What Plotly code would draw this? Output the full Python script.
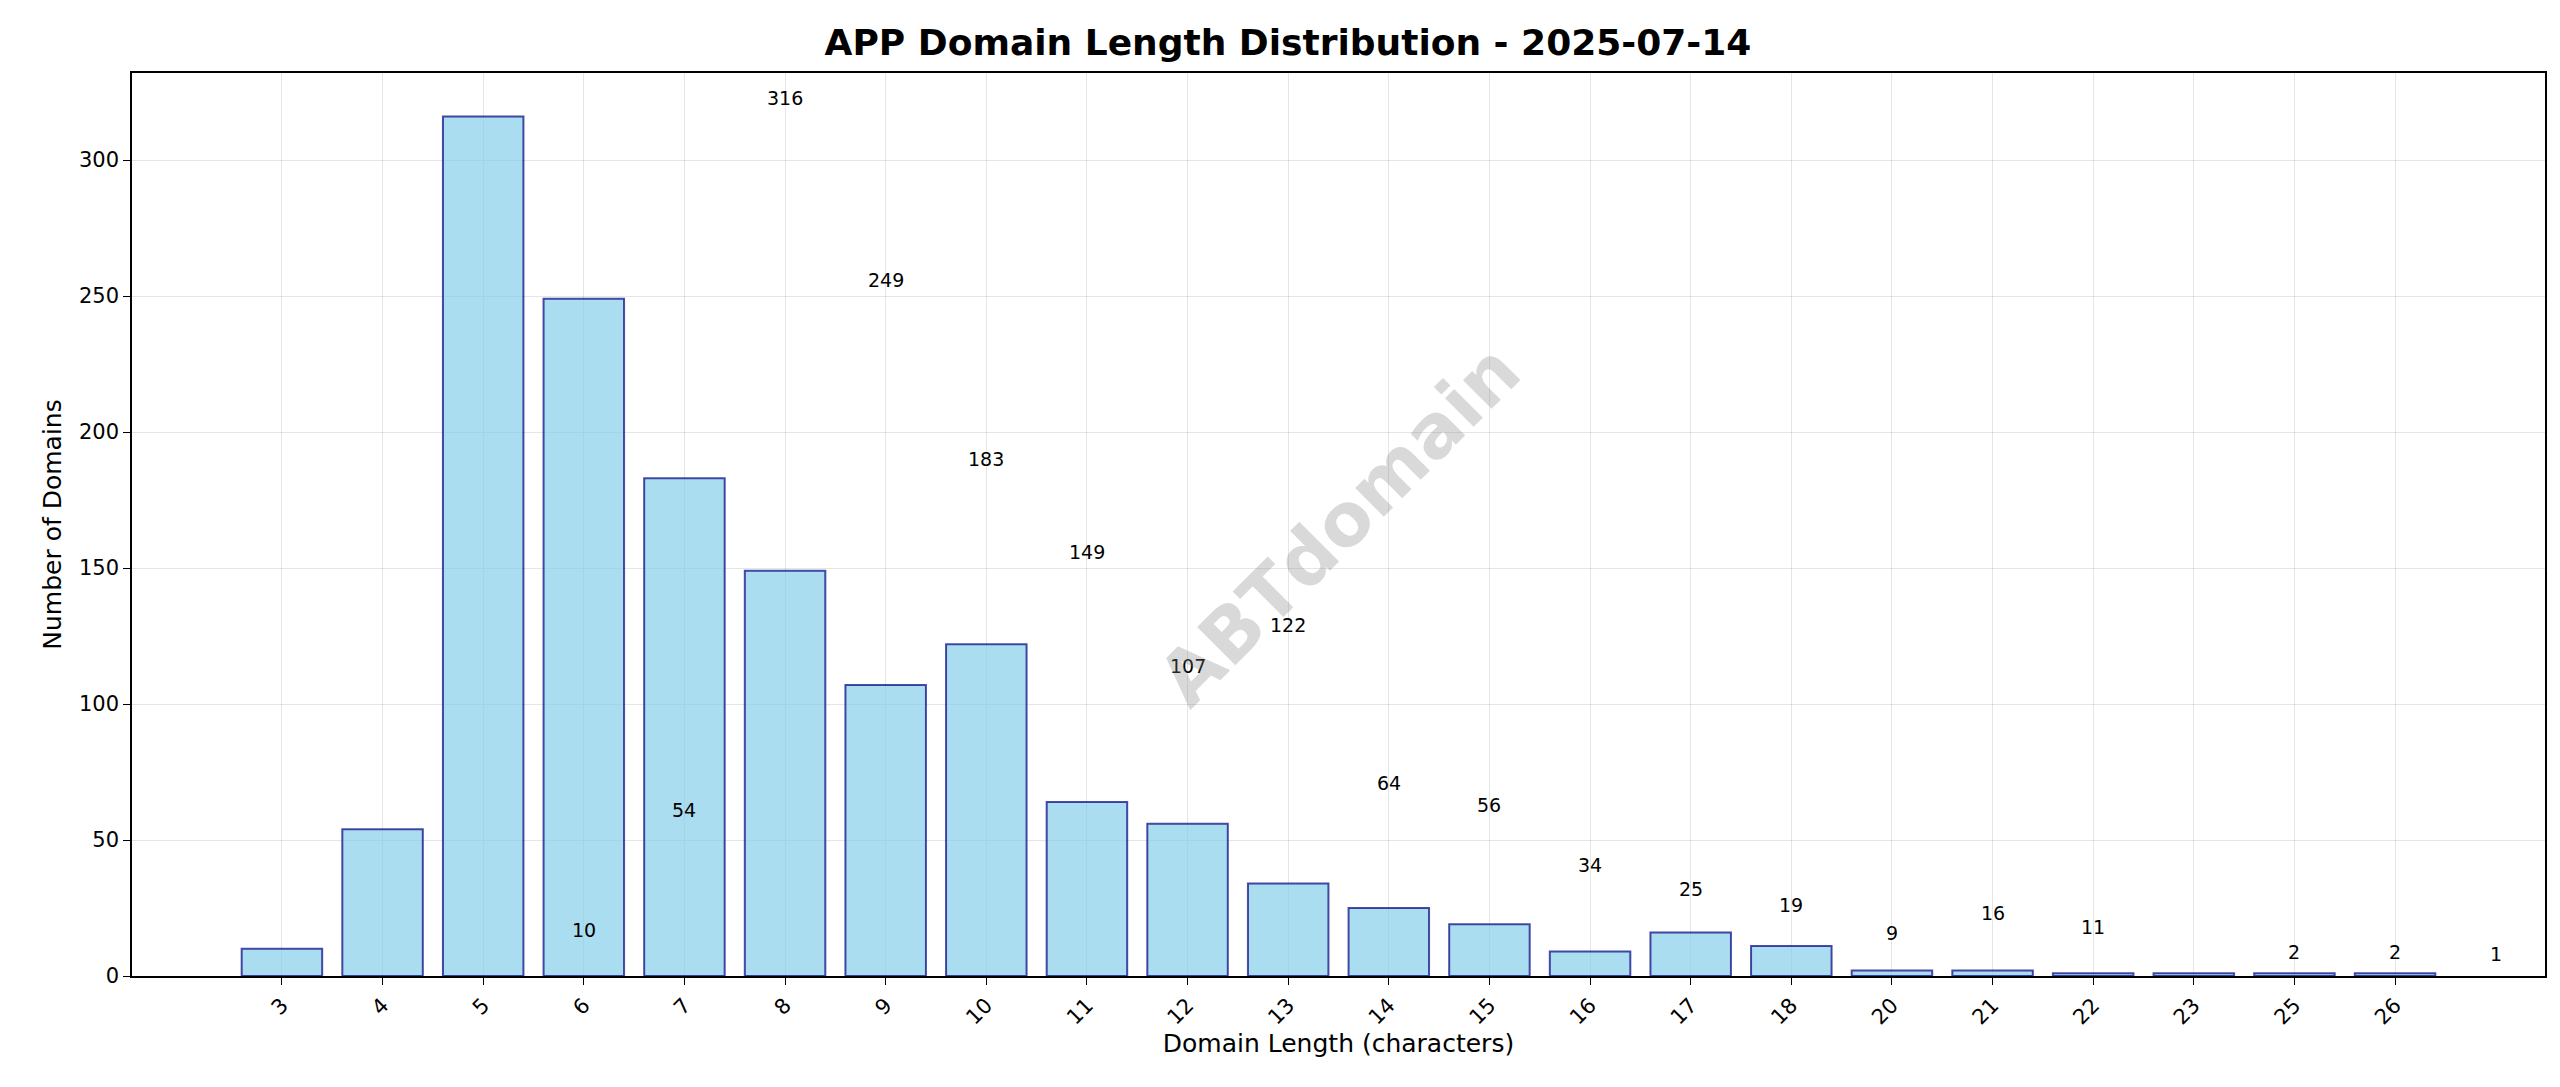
import plotly.graph_objects as go

lengths = ["3", "4", "5", "6", "7", "8", "9", "10", "11", "12", "13", "14",
           "15", "16", "17", "18", "20", "21", "22", "23", "25", "26"]
counts = [10, 54, 316, 249, 183, 149, 107, 122, 64, 56, 34, 25,
          19, 9, 16, 11, 2, 2, 1, 1, 1, 1]

fig = go.Figure(go.Bar(
    x=lengths, y=counts, width=0.8,
    marker=dict(color="rgba(135,206,235,0.7)",
                line=dict(color="rgba(0,0,128,0.7)", width=2)),
))

# value labels above each bar
for x, c in zip(lengths, counts):
    fig.add_annotation(x=x, y=c, text=str(c), showarrow=False, yanchor="bottom",
                       yshift=6, font=dict(size=19, color="black"))

axis_common = dict(showline=True, linecolor="black", linewidth=1.5, mirror=True,
                   showgrid=True, gridcolor="rgba(0,0,0,0.1)", ticks="outside",
                   ticklen=7, tickcolor="black", tickfont=dict(size=21, color="black"),
                   zeroline=False)

fig.update_layout(
    width=2560, height=1087,
    paper_bgcolor="white", plot_bgcolor="white",
    font=dict(family="DejaVu Sans", color="black"),
    margin=dict(l=124, r=23, t=65, b=119),
    title=dict(text="<b>APP Domain Length Distribution - 2025-07-14</b>",
               x=0.5, xanchor="center", y=0.98, yanchor="top",
               font=dict(size=36)),
    xaxis=dict(axis_common, type="category", range=[-1.49, 22.49], tickangle=-45,
               title=dict(text="Domain Length (characters)", font=dict(size=25), standoff=6)),
    yaxis=dict(axis_common, range=[0, 332], dtick=50,
               title=dict(text="Number of Domains", font=dict(size=25), standoff=10)),
    showlegend=False,
)

fig.add_annotation(text="<b>ABTdomain</b>", xref="paper", yref="paper", x=0.5, y=0.5,
                   showarrow=False, textangle=-45,
                   font=dict(size=74, color="rgba(128,128,128,0.3)"))

fig.write_html("out.html")
